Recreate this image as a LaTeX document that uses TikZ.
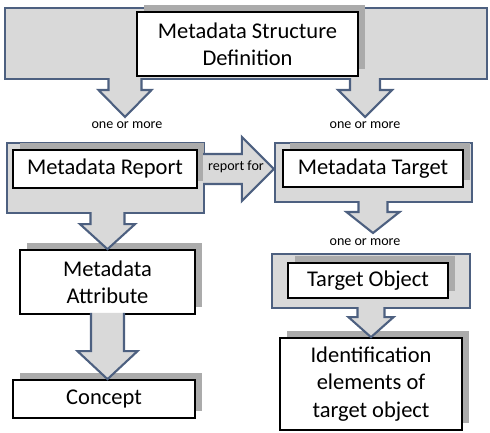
\documentclass[tikz,border=0pt]{standalone}
\usepackage{fontspec}
\setmainfont{Carlito}
\usetikzlibrary{calc,shadows}
\definecolor{frameblue}{HTML}{4D6080}
\definecolor{boxgray}{HTML}{D9D9D9}
\definecolor{shadegray}{HTML}{ABABAB}
% block arrows: start, tip, shaft half width, head half width, head length
\newcommand{\blockdown}[5]{%
  \filldraw[blockarrow] ($(#1)+(-#3,-2)$) -- ($(#2)+(-#3,-#5)$) -- ($(#2)+(-#4,-#5)$) -- (#2)
    -- ($(#2)+(#4,-#5)$) -- ($(#2)+(#3,-#5)$) -- ($(#1)+(#3,-2)$);}
\newcommand{\blockright}[5]{%
  \filldraw[blockarrow] ($(#1)+(-2,-#3)$) -- ($(#2)+(-#5,-#3)$) -- ($(#2)+(-#5,-#4)$) -- (#2)
    -- ($(#2)+(-#5,#4)$) -- ($(#2)+(-#5,#3)$) -- ($(#1)+(-2,#3)$);}
\begin{document}
\begin{tikzpicture}[x=0.025cm, y=-0.025cm,
    frame/.style = {draw=frameblue, line width=1.5pt, fill=boxgray, inner sep=0pt},
    box/.style = {draw=black, line width=1.2pt, fill=white, align=center, inner sep=2pt,
      font=\fontsize{16}{19.5}\selectfont,
      general shadow={fill=shadegray, shadow xshift=5pt, shadow yshift=5pt}},
    blockarrow/.style = {draw=frameblue, line width=1.5pt, fill=boxgray, line join=miter},
    small/.style = {font=\fontsize{10}{12}\selectfont, inner sep=0pt}]
    \useasboundingbox (0,0) rectangle (490,432);
    % frames
    \node[frame, minimum width=12.05cm, minimum height=1.775cm] (band) at (246,43.5) {};
    \node[frame, minimum width=4.925cm, minimum height=1.75cm] (mrframe) at (105.5,178) {};
    \node[frame, minimum width=4.925cm, minimum height=1.475cm] (mtframe) at (373.5,172.5) {};
    \node[frame, minimum width=4.95cm, minimum height=1.35cm] (toframe) at (371,281) {};
    % boxes
    \node[box, minimum width=5.525cm, minimum height=1.6cm] (msd) at (247.5,44) {Metadata Structure\\Definition};
    \node[box, minimum width=4.6cm, minimum height=0.95cm] (mr) at (105,169) {Metadata Report};
    \node[box, minimum width=4.5cm, minimum height=0.925cm] (mt) at (373,168.5) {Metadata Target};
    \node[box, minimum width=4cm, minimum height=0.875cm] (to) at (368,280.5) {Target Object};
    \node[box, minimum width=4.375cm, minimum height=1.6cm] (ma) at (107.5,282) {Metadata\\Attribute};
    \node[box, minimum width=4.55cm, minimum height=0.95cm] (concept) at (104,399) {Concept};
    \node[box, minimum width=4.55cm, minimum height=2.3cm] (ident) at (371,384) {Identification\\elements of\\target object};
    % arrow ends
    \coordinate (t1) at (125,117);
    \coordinate (t2) at (365,117);
    \coordinate (s1) at (band.south -| t1);
    \coordinate (s2) at (band.south -| t2);
    \coordinate (t3) at (ma.north);
    \coordinate (s3) at (mrframe.south -| t3);
    \coordinate (t4) at (373,233);
    \coordinate (s4) at (mtframe.south -| t4);
    \coordinate (t5) at (ident.north);
    \coordinate (s5) at (toframe.south -| t5);
    \coordinate (t6) at (concept.north -| ma.south);
    \coordinate (s6) at (ma.south);
    \coordinate (t7) at (mtframe.west |- mr.center);
    \coordinate (s7) at (mrframe.east |- mr.center);
    % arrows
    \blockdown{s1}{t1}{16.5}{26.5}{27}
    \blockdown{s2}{t2}{15}{27}{27}
    \blockdown{s3}{t3}{17}{27.5}{25}
    \blockdown{s4}{t4}{14.5}{26.5}{21}
    \blockdown{s5}{t5}{13.5}{22.5}{20}
    \blockdown{s6}{t6}{16.5}{30}{28}
    \blockright{s7}{t7}{15}{32}{32}
    % labels
    \node[small] (om1) at (127,125) {one or more};
    \node[small] (om2) at (365,125) {one or more};
    \node[small] (om3) at (365,242) {one or more};
    \node[small] (rf) at (236,167) {report for};
\end{tikzpicture}
\end{document}
